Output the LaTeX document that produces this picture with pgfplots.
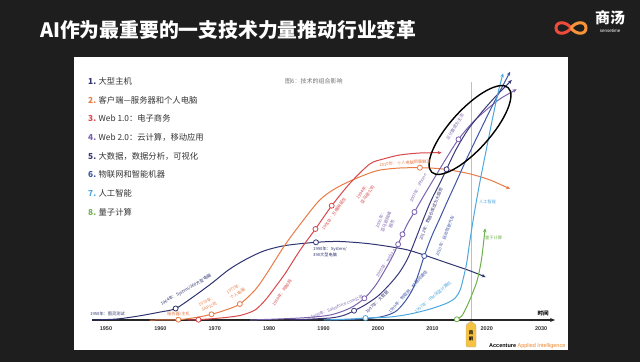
\documentclass[border=0pt]{standalone}
\usepackage{pgfplots}
\pgfplotsset{compat=1.18}
\usepackage{fontspec}
\setmainfont{Liberation Sans}
\newfontfamily\cjk{Noto Sans CJK SC}
\usetikzlibrary{arrows.meta}
\definecolor{bg}{HTML}{1E1E1E}
\definecolor{c1}{HTML}{2F3470}
\definecolor{c2}{HTML}{E97B45}
\definecolor{c3}{HTML}{D8474A}
\definecolor{c4}{HTML}{7B62AE}
\definecolor{c5}{HTML}{3A3878}
\definecolor{c6}{HTML}{3F55A3}
\definecolor{c7}{HTML}{4FA8DD}
\definecolor{c8}{HTML}{6DB24D}
\definecolor{legtext}{HTML}{333333}
\definecolor{axc}{HTML}{262626}
\definecolor{tagy}{HTML}{F5C242}
\definecolor{accor}{HTML}{F0862A}
\definecolor{logor}{HTML}{EF4B3A}
\definecolor{logoo}{HTML}{F7943A}
\newcommand\ann{\cjk\fontsize{4.2}{6.2}\selectfont}
\newcommand\leg[3]{\cjk\fontsize{8.3}{9}\selectfont{\bfseries\color{#1}#2}\hspace{2.5pt}{\color{legtext}#3}}
\tikzset{arr/.style={-{Stealth[length=4pt,width=3.5pt]}}, an/.style={inner sep=0pt, font=\ann}}
\begin{document}
\begin{tikzpicture}
% background and panel
\begin{scope}[x=1pt,y=-1pt,shift={(0pt,362pt)}]
\fill[bg] (0,0) rectangle (640,362);
\fill[white] (74,57) rectangle (568,350);
\draw[black!25, line width=0.6pt] (471,82) -- (471,322);
\end{scope}

\begin{axis}[
  at={(92pt,42pt)}, anchor=south west,
  scale only axis, width=463pt, height=263pt,
  xmin=1947.43, xmax=2032.54, ymin=0, ymax=263,
  axis x line=bottom, axis y line=none,
  x axis line style={-{Stealth[length=5pt,width=4pt]}, line width=1.4pt, color=axc},
  xtick={1950,1960,1970,1980,1990,2000,2010,2020,2030},
  xticklabels={1950,1960,1970,1980,1990,2000,2010,2020,2030},
  ytick=\empty,
  major tick length=0pt,
  xticklabel style={font=\fontsize{5.5}{6}\selectfont\bfseries, text=legtext, anchor=center, yshift=-9pt},
  clip=false,
  every axis plot/.append style={line width=1pt},
]
% 1 mainframe
\addplot[c1, smooth, arr] coordinates {(1947.5,0) (1952,1) (1956,4) (1960,8) (1962.8,11.5) (1966,23) (1969.5,37) (1972.5,50) (1975.5,60) (1979,69) (1983,74.5) (1988.6,77.7) (1993,78.5) (1998,76.5) (2002,73.5) (2005.5,70) (2009,64) (2013,56.5) (2016.5,50) (2019.8,43)};
% 2 client-server
\addplot[c2, smooth, arr] coordinates {(1958,0) (1963.3,0.3) (1966.5,2.5) (1969.4,5.7) (1972,10) (1974.6,16) (1977.4,30) (1979.5,46) (1982.9,75) (1986.3,100) (1989.3,120) (1992,131) (1994.9,139) (1998,146) (2000.4,150) (2004,152) (2007.7,152.3) (2011,151.5) (2013.2,150) (2017,146) (2020.6,140) (2024.3,131)};
% 3 web 1.0
\addplot[c3, smooth, arr] coordinates {(1965,0) (1967,0.3) (1970,1.5) (1972.8,3) (1975,5) (1977.4,10) (1979.3,20) (1981,32) (1983,47) (1985.7,70) (1988.5,91) (1991.5,114.3) (1994.9,137) (1998.5,156) (2001,161) (2004,165) (2007.7,167) (2011.7,167.3)};
% 4 web 2.0
\addplot[c4, smooth, arr] coordinates {(1976.5,0) (1985.7,2) (1991.2,5) (1994.9,12) (1997.5,21.7) (1999.6,35) (2001.5,52) (2002.8,65) (2003.7,75.7) (2004.5,85.7) (2005.5,97) (2006.7,108) (2008.5,125) (2010.7,145) (2012.7,163) (2014.8,180.7) (2017.3,197) (2019.9,210) (2022.4,221) (2025.5,230.7)};
% 5 big data
\addplot[c5, smooth, arr] coordinates {(1983.8,0) (1991.2,2) (1993.9,5) (1995.6,9.3) (1997.6,15) (2000,24) (2002.2,36) (2004,48) (2005.5,62) (2007,82) (2008.5,103) (2009.9,121) (2011.4,137) (2012.6,150.7) (2014.3,170) (2016.5,190) (2019.1,208) (2021.7,224) (2024.6,240)};
% 6 IoT
\addplot[c6, smooth, arr] coordinates {(1991.2,0) (1996.7,1) (2000.4,3) (2003.1,8) (2004.9,18) (2006.4,31) (2007.5,47) (2008.5,64) (2009.9,84) (2011.4,102) (2012.7,118) (2014.3,137) (2016.2,160) (2018.4,185) (2021,214) (2024.3,248.3)};
% 7 AI
\addplot[c7, smooth, arr] coordinates {(1990,0) (1995,1) (1997.7,2) (2002.2,3) (2005.9,6) (2009.6,11) (2012.6,16.7) (2014.2,22) (2015.1,30) (2015.7,42) (2016.3,56.7) (2016.7,72) (2017.2,90) (2017.8,110) (2018.8,140) (2019.9,170) (2021,200) (2022.1,228) (2023,246.7)};
% 8 quantum
\addplot[c8, smooth, arr] coordinates {(2014.5,0.7) (2015.4,4) (2016.3,13) (2017.1,23) (2017.6,30) (2018.1,37) (2018.6,48) (2019.1,63.3) (2019.7,91.7)};
% markers
\pgfplotsset{mk/.style={only marks, mark=*, mark size=2.5pt, mark options={fill=white, draw=#1, line width=0.8pt}}}
\addplot[mk=c1] coordinates {(1962.8,11.5) (1988.6,77.7)};
\addplot[mk=c2] coordinates {(1963.3,0.3) (1969.4,5.7) (1974.6,16) (2007.7,152.3)};
\addplot[mk=c3] coordinates {(1967,0.3) (1988.5,91) (1991.5,114.3)};
\addplot[mk=c4] coordinates {(1997.5,21.7) (2003.7,75.7) (2004.5,85.7) (2006.7,108) (2014.8,180.7)};
\addplot[mk=c5] coordinates {(1995.6,9.3) (2012.6,150.7)};
\addplot[mk=c6] coordinates {(2008.5,64)};
\addplot[mk=c7] coordinates {(1997.7,2)};
\addplot[mk=c8] coordinates {(2014.5,0.7)};
\end{axis}

\begin{scope}[x=1pt,y=-1pt,shift={(0pt,362pt)}]
% title
\node[anchor=west, text=white, inner sep=0pt] at (40,30) {\cjk\bfseries\fontsize{19.8}{22}\selectfont AI作为最重要的一支技术力量推动行业变革};
% logo
\draw[logor, line width=3pt] (571,28) .. controls (566,21) and (556,21) .. (556,28) .. controls (556,35) and (566,35) .. (571,28);
\draw[logoo, line width=3pt] (571,28) .. controls (576,21) and (586,21) .. (586,28) .. controls (586,35) and (576,35) .. (571,28);
\node[text=white, inner sep=0pt] at (610,18) {\cjk\bfseries\fontsize{15}{16}\selectfont 商汤};
\node[text=white, inner sep=0pt] at (610,31) {\fontsize{4.5}{5}\selectfont sensetime};
% legend
\node[anchor=west, inner sep=0pt] at (88,81) {\leg{c1}{1.}{大型主机}};
\node[anchor=west, inner sep=0pt] at (88,100) {\leg{c2}{2.}{客户端—服务器和个人电脑}};
\node[anchor=west, inner sep=0pt] at (88,118.7) {\leg{c3}{3.}{Web 1.0：电子商务}};
\node[anchor=west, inner sep=0pt] at (88,137.3) {\leg{c4}{4.}{Web 2.0：云计算，移动应用}};
\node[anchor=west, inner sep=0pt] at (88,156) {\leg{c5}{5.}{大数据，数据分析，可视化}};
\node[anchor=west, inner sep=0pt] at (88,174.7) {\leg{c6}{6.}{物联网和智能机器}};
\node[anchor=west, inner sep=0pt] at (88,193.3) {\leg{c7}{7.}{人工智能}};
\node[anchor=west, inner sep=0pt] at (88,212) {\leg{c8}{8.}{量子计算}};
% subtitle
\node[anchor=west, text=black!55, inner sep=0pt] at (285,81) {\cjk\fontsize{6}{7}\selectfont 图6：技术的组合影响};
% ellipse
\draw[black, line width=1.4pt, rotate around={48:(470,130)}] (470,130) ellipse [x radius=57pt, y radius=20pt];
% annotations
\node[c1, an, anchor=west] at (90,314) {1950年：图灵测试};
\node[c1, an, rotate=30] at (186,290) {1964年：System/360大型电脑};
\node[c1, an, anchor=north west, align=left] at (313,247) {1990年：System/\\390大型电脑};
\node[c2, an] at (178.5,314) {服务器/主机};
\node[c2, an, rotate=25, align=center] at (208,304) {1970年：\\SAP公司};
\node[c2, an, rotate=30, align=center] at (236,291) {1977年：\\个人电脑};
\node[c2, an, rotate=4] at (405,163) {2010年：个人电脑销量触顶};
\node[c3, an, rotate=55] at (282,293) {1969年：阿帕网};
\node[c3, an, rotate=55] at (334,214) {1991年：万维网诞生};
\node[c3, an, rotate=55, align=center] at (365,193) {1994年：\\亚马逊公司};
\node[c4, an, rotate=22] at (337,307) {1999年：Salesforce.com公司};
\node[c4, an, rotate=57] at (386,263) {2005年：web 2.0};
\node[c4, an, rotate=68, align=center] at (386,222) {2006年：\\亚马逊网络\\服务};
\node[c4, an, rotate=63] at (418,188) {2007年：iPhone};
\node[c4, an, rotate=58] at (455,127) {云计算成为主流};
\node[c5, an, rotate=45] at (377,302) {1997年：大数据};
\node[c5, an, rotate=68] at (431,214) {2012年：数据仓库成为大趋势};
\node[c6, an, rotate=48] at (408,292) {1999年：物联网，机器间通信};
\node[c6, an, rotate=68] at (445,236) {2010年：自动驾驶汽车};
\node[c7, an, rotate=40] at (433,297) {1997年：IBM深蓝计算机};
\node[c7, an, anchor=west] at (479,202) {人工智能};
\node[c8, an, anchor=west] at (485,238) {量子计算};
\node[inner sep=0pt] at (543,313) {\cjk\bfseries\fontsize{5.5}{6}\selectfont 时间};
% now tag
\filldraw[fill=tagy, draw=black!30, line width=0.3pt, rounded corners=1pt] (466,325) -- (471,321) -- (476,325) -- (476,347) -- (466,347) -- cycle;
\node[align=center, inner sep=0pt, font=\cjk\bfseries\fontsize{4.5}{6}\selectfont] at (471,335.5) {目\\前};
% source
\node[anchor=west, inner sep=0pt] at (489,346) {\fontsize{5.5}{6}\selectfont\bfseries Accenture \mdseries\color{accor}Applied Intelligence};
\end{scope}
\end{tikzpicture}
\end{document}
